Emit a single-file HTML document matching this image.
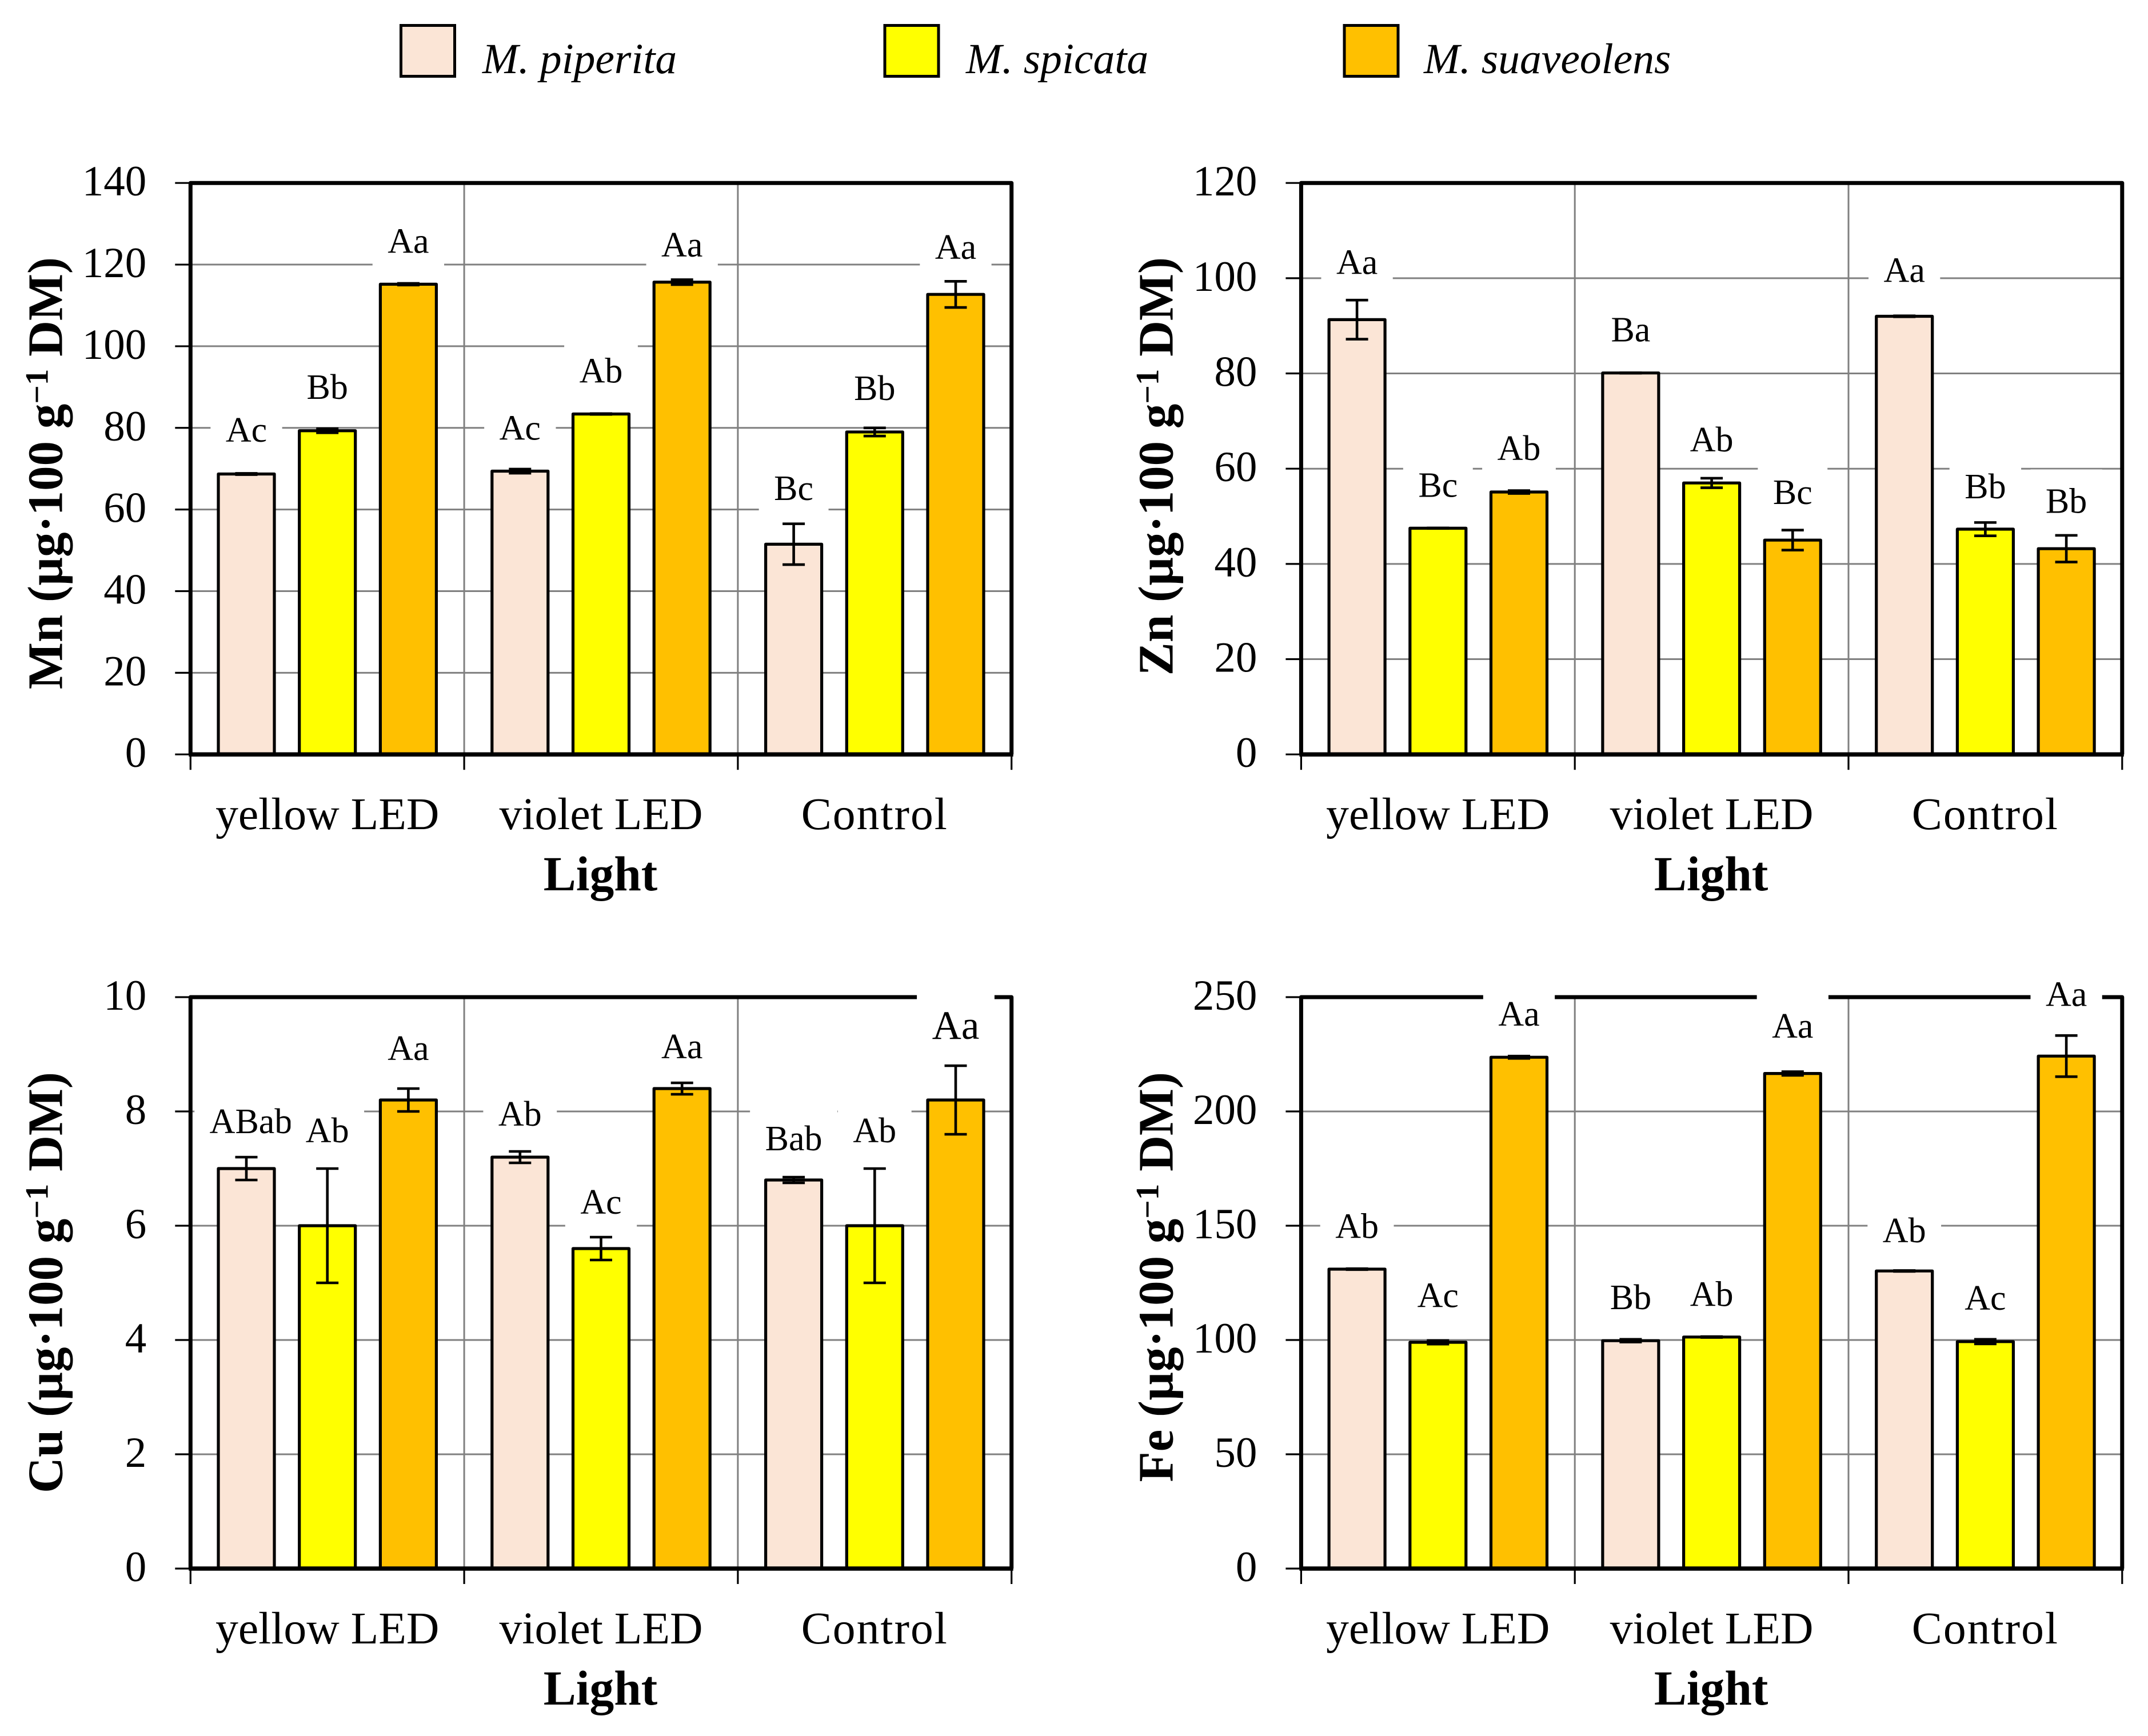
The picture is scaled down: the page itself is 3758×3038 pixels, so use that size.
<!DOCTYPE html>
<html lang="en">
<head>
<meta charset="utf-8">
<title>Micronutrient content of Mentha species under LED light</title>
<style>
html,body{margin:0;padding:0;background:#fff;}
svg{display:block;}
text{font-family:"Liberation Serif",serif;fill:#000;}
</style>
</head>
<body>
<svg id="figure" xmlns="http://www.w3.org/2000/svg" width="3758" height="3038" viewBox="0 0 3758 3038">
  <rect x="0" y="0" width="3758" height="3038" fill="#fff"/>
  <g>
    <g>
      <rect x="701.5" y="44.5" width="94" height="89" fill="#FBE5D6" stroke="#000" stroke-width="5"/>
      <text x="844" y="128" font-size="75.6" font-style="italic">M. piperita</text>
    </g>
    <g>
      <rect x="1548" y="44.5" width="94" height="89" fill="#FFFF00" stroke="#000" stroke-width="5"/>
      <text x="1690" y="128" font-size="75.6" font-style="italic">M. spicata</text>
    </g>
    <g>
      <rect x="2352" y="44.5" width="94" height="89" fill="#FFC000" stroke="#000" stroke-width="5"/>
      <text x="2491" y="128" font-size="75.6" font-style="italic">M. suaveolens</text>
    </g>
  </g>
</svg>
<script>
const categories = ['yellow LED', 'violet LED', 'Control'];
const speciesKeys = ['piperita', 'spicata', 'suaveolens'];
const xAxisTitle = 'Light';

const mnTicks = [0, 20, 40, 60, 80, 100, 120, 140];
const mnValues = [68.7, 79.3, 115.2, 69.4, 83.4, 115.7, 51.5, 79.0, 112.7];
const mnErrors = [0.15, 0.5, 0.2, 0.5, 0.1, 0.6, 5.0, 1.0, 3.2];
const mnLetters = ['Ac', 'Bb', 'Aa', 'Ac', 'Ab', 'Aa', 'Bc', 'Bb', 'Aa'];
const mnLetterLift = [7.9, 7.8, 7.7, 7.7, 7.7, 6.3, 10.8, 7.8, 8.7];

const znTicks = [0, 20, 40, 60, 80, 100, 120];
const znValues = [91.3, 47.5, 55.1, 80.1, 57.0, 45.0, 92.0, 47.3, 43.2];
const znErrors = [4.1, 0.05, 0.3, 0.05, 1.0, 2.1, 0.1, 1.4, 2.8];
const znLetters = ['Aa', 'Bc', 'Ab', 'Ba', 'Ab', 'Bc', 'Aa', 'Bb', 'Bb'];
const znLetterLift = [9.6, 6.6, 6.7, 6.6, 6.6, 7.6, 7.2, 6.5, 7.5];

const cuTicks = [0, 2, 4, 6, 8, 10];
const cuValues = [7.0, 6.0, 8.2, 7.2, 5.6, 8.4, 6.8, 6.0, 8.2];
const cuErrors = [0.2, 1.0, 0.2, 0.1, 0.2, 0.1, 0.05, 1.0, 0.6];
const cuLetters = ['ABab', 'Ab', 'Aa', 'Ab', 'Ac', 'Aa', 'Bab', 'Ab', 'Aa'];
const cuLetterLift = [0.62, 1.46, 0.70, 0.55, 0.61, 0.53, 0.52, 1.46, 1.07];

const feTicks = [0, 50, 100, 150, 200, 250];
const feValues = [131.0, 99.0, 223.7, 99.7, 101.3, 216.6, 130.2, 99.3, 224.2];
const feErrors = [0.2, 0.8, 0.5, 0.6, 0.2, 0.8, 0.2, 1.0, 9.0];
const feLetters = ['Ab', 'Ac', 'Aa', 'Bb', 'Ab', 'Aa', 'Ab', 'Ac', 'Aa'];
const feLetterLift = [13.6, 15.4, 13.8, 13.8, 13.6, 15.7, 12.6, 14.0, 21.9];

const NS = 'http://www.w3.org/2000/svg';
const figure = document.getElementById('figure');
const speciesFill = ['#FBE5D6', '#FFFF00', '#FFC000'];

function make(tag, parent, attrs) {
  const node = document.createElementNS(NS, tag);
  Object.keys(attrs).forEach(function (k) { node.setAttribute(k, attrs[k]); });
  parent.appendChild(node);
  return node;
}

function drawPanel(element, titleEnd, left, top, ticks, values, errors, letters, lifts) {
  const plotW = 1436.4;
  const plotH = 1000;
  const bottom = top + plotH;
  const right = left + plotW;
  const groupW = plotW / categories.length;
  const barW = 98;
  const barStep = 141.7;
  const yMax = ticks[ticks.length - 1];
  const yScale = function (v) { return bottom - (v / yMax) * plotH; };
  const groupCenter = function (g) { return left + groupW * (g + 0.5); };
  const barCenter = function (i) {
    const g = Math.floor(i / speciesKeys.length);
    const s = i % speciesKeys.length;
    return groupCenter(g) + (s - 1) * barStep;
  };
  const key = element.toLowerCase();

  const panel = make('g', figure, {});
  
  

  ticks.forEach(function (t, i) {
    if (i === 0 || i === ticks.length - 1) return;
    const grid = make('line', panel, { x1: left, x2: right, y1: yScale(t), y2: yScale(t), stroke: '#808080', 'stroke-width': 3 });
    
    
  });
  for (let g = 1; g < categories.length; g++) {
    const divider = make('line', panel, { x1: left + groupW * g, x2: left + groupW * g, y1: top, y2: bottom, stroke: '#808080', 'stroke-width': 3 });
    
    
  }

  values.forEach(function (v, i) {
    const s = i % speciesKeys.length;
    const g = Math.floor(i / speciesKeys.length);
    const cx = barCenter(i);
    const bar = make('rect', panel, { x: cx - barW / 2, y: yScale(v), width: barW, height: bottom - yScale(v), fill: speciesFill[s], stroke: '#000', 'stroke-width': 5.2, 'stroke-linejoin': 'round' });
    
    
  });

  values.forEach(function (v, i) {
    const cx = barCenter(i);
    const hi = yScale(v + errors[i]);
    const lo = yScale(v - errors[i]);
    const whisker = make('path', panel, {
      d: 'M' + cx + ' ' + hi + 'V' + lo + 'M' + (cx - 19.5) + ' ' + hi + 'H' + (cx + 19.5) + 'M' + (cx - 19.5) + ' ' + lo + 'H' + (cx + 19.5),
      fill: 'none', stroke: '#000', 'stroke-width': 4.6
    });
    
    
  });

  const frame = make('path', panel, {
    d: 'M' + left + ' ' + bottom + 'V' + top + 'H' + right + 'V' + bottom,
    fill: 'none', stroke: '#000', 'stroke-width': 7, 'stroke-linejoin': 'round'
  });
  
  
  const baseline = make('line', panel, { x1: left - 3, x2: right + 3, y1: bottom, y2: bottom, stroke: '#000', 'stroke-width': 7.5 });
  
  

  ticks.forEach(function (t) {
    const mark = make('line', panel, { x1: left - 27, x2: left, y1: yScale(t), y2: yScale(t), stroke: '#000', 'stroke-width': 3.2 });
    
    
    const label = make('text', panel, { x: left - 77, y: yScale(t) + 22, 'font-size': 75, 'text-anchor': 'end' });
    label.textContent = String(t);
    
    
  });

  for (let g = 0; g <= categories.length; g++) {
    const mark = make('line', panel, { x1: left + groupW * g, x2: left + groupW * g, y1: bottom, y2: bottom + 27, stroke: '#000', 'stroke-width': 3.2 });
    
    
  }
  categories.forEach(function (c, g) {
    const label = make('text', panel, { x: groupCenter(g), y: bottom + 131, 'font-size': 79.6, 'text-anchor': 'middle' });
    label.textContent = c;
    label.setAttribute('letter-spacing', c.length < 8 ? 2 : 0);
    
    
  });

  const xTitle = make('text', panel, { x: left + plotW / 2 - 1, y: bottom + 238, 'font-size': 85.5, 'font-weight': 'bold', 'text-anchor': 'middle' });
  xTitle.textContent = xAxisTitle;
  
  

  const yTitle = make('text', panel, { transform: 'translate(' + (left - 225) + ' ' + titleEnd + ') rotate(-90)', x: 0, y: 0, 'font-size': 87, 'font-weight': 'bold', 'text-anchor': 'end' });
  
  
  const t1 = make('tspan', yTitle, {});
  t1.textContent = element + ' (\u00b5g\u00b7100 g';
  const t2 = make('tspan', yTitle, { dy: -25, 'font-size': 57 });
  t2.textContent = '\u22121';
  const t3 = make('tspan', yTitle, { dy: 25 });
  t3.textContent = ' DM)';

  letters.forEach(function (txt, i) {
    const big = i === letters.length - 1 && element === 'Cu';
    const fs = big ? 71 : 62;
    const cx = barCenter(i) + (txt.length > 3 ? 8 : 0);
    const by = yScale(values[i] + lifts[i]);
    const group = make('g', panel, {});
    
    
    const box = make('rect', group, { fill: '#fff', y: by - fs * 1.23, height: fs * 1.67 });
    
    
    const label = make('text', group, { x: cx, y: by, 'font-size': fs, 'text-anchor': 'middle' });
    label.textContent = txt;
    
    
    const w = label.getComputedTextLength() + 53;
    const boxLeft = Math.max(cx - w / 2, left + 3.5);
    box.setAttribute('x', boxLeft);
    box.setAttribute('width', cx + w / 2 - boxLeft);
  });
}

drawPanel('Mn', 450, 333.3, 320.2, mnTicks, mnValues, mnErrors, mnLetters, mnLetterLift);
drawPanel('Zn', 450, 2276.4, 320.2, znTicks, znValues, znErrors, znLetters, znLetterLift);
drawPanel('Cu', 1876, 333.3, 1745, cuTicks, cuValues, cuErrors, cuLetters, cuLetterLift);
drawPanel('Fe', 1876, 2276.4, 1745, feTicks, feValues, feErrors, feLetters, feLetterLift);
</script>
</body>
</html>
